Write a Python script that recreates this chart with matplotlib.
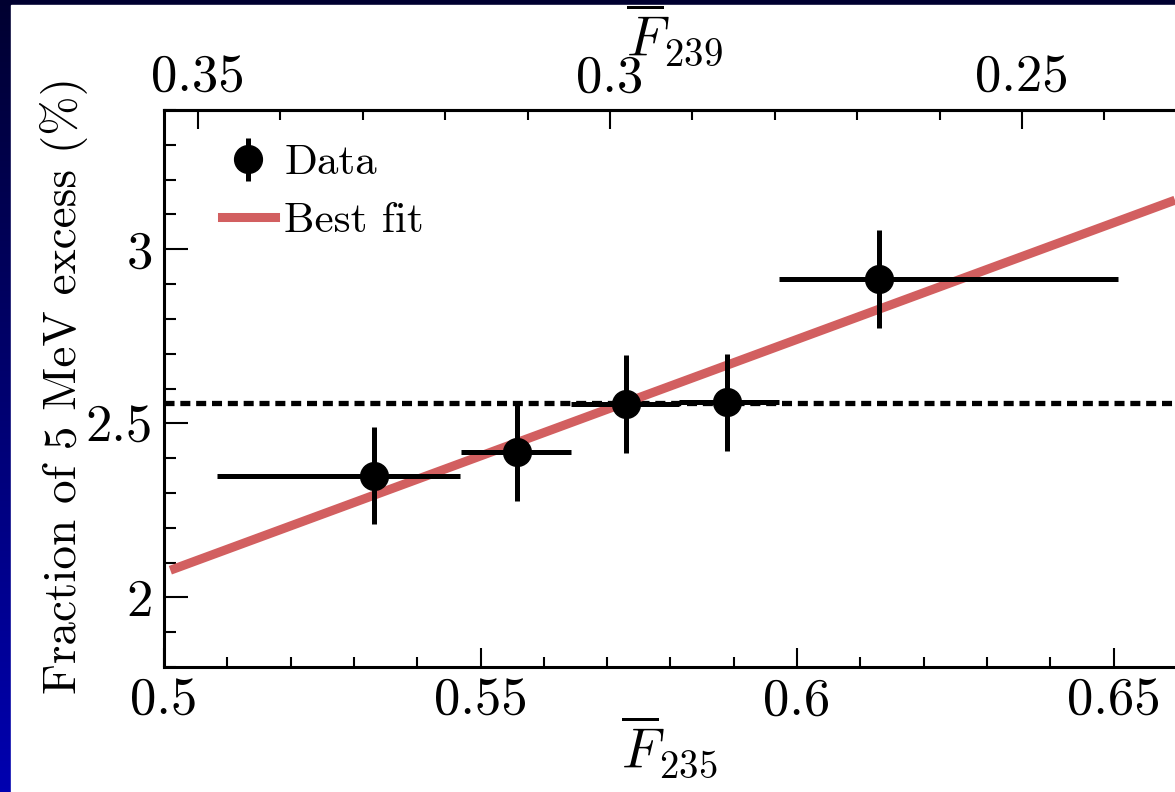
import numpy as np
import matplotlib
matplotlib.use("Agg")
import matplotlib.pyplot as plt
from matplotlib.ticker import MultipleLocator
from matplotlib.lines import Line2D
from matplotlib.patches import Rectangle

plt.rcParams["font.family"] = ["cmr10", "DejaVu Serif"]
plt.rcParams["mathtext.fontset"] = "cm"
plt.rcParams["axes.formatter.use_mathtext"] = True

# data
f235 = [0.5331, 0.5557, 0.5729, 0.5890, 0.6129]
f235_lo = [0.5083, 0.5469, 0.5643, 0.5813, 0.5972]
f235_hi = [0.5468, 0.5643, 0.5813, 0.5972, 0.6507]
frac = [2.35, 2.417, 2.555, 2.56, 2.914]
frac_err = [0.14, 0.139, 0.14, 0.14, 0.141]
mean_frac = 2.557

# best fit line, two ends
fit_x = [0.501, 0.6597]
fit_y = [2.078, 3.141]

f239_ref, f235_ref, f_slope = 0.35, 0.50537, -0.7682

top_ticks = [0.35, 0.3, 0.25]

fit_color = "#d25f60"

fig = plt.figure(figsize=(11.75, 7.92), dpi=100)

# slide background
bg = fig.add_axes([0, 0, 1, 1])
grad = np.linspace(0, 1, 256).reshape(-1, 1)
cmap = matplotlib.colors.LinearSegmentedColormap.from_list("slide", ["#000030", "#0000b0"])
bg.imshow(grad, aspect="auto", cmap=cmap, extent=[0, 1, 0, 1], origin="upper")
bg.add_patch(Rectangle((11 / 1175, 0), 1, 1 - 5 / 792, color="white", transform=bg.transAxes))
bg.set_xlim(0, 1)
bg.set_ylim(0, 1)
bg.axis("off")

ax = fig.add_axes([164 / 1175, 1 - 667 / 792, 1 - 164 / 1175, (667 - 110) / 792])
ax.set_facecolor("white")

ax.axhline(mean_frac, color="k", lw=3.8, ls=(0, (1.9, 1.1)), zorder=1)
ax.plot(fit_x, fit_y, color=fit_color, lw=6.5, solid_capstyle="butt", zorder=2)

xerr = [np.array(f235) - np.array(f235_lo), np.array(f235_hi) - np.array(f235)]
ax.errorbar(f235, frac, xerr=xerr, yerr=frac_err, fmt="o", color="k", ms=20,
            elinewidth=3.6, capsize=0, zorder=3)
# legend entry: marker with vertical bar only
ax.errorbar([np.nan], [np.nan], yerr=[0.1], fmt="o", color="k", ms=20,
            elinewidth=3.6, capsize=0, label="Data")

ax.set_xlim(0.5, 0.6597)
ax.set_ylim(1.8, 3.4)

ax.xaxis.set_major_locator(MultipleLocator(0.05))
ax.xaxis.set_minor_locator(MultipleLocator(0.01))
ax.yaxis.set_major_locator(MultipleLocator(0.5))
ax.yaxis.set_minor_locator(MultipleLocator(0.1))
ax.xaxis.set_major_formatter(plt.FuncFormatter(lambda v, p: f"{v:g}"))
ax.yaxis.set_major_formatter(plt.FuncFormatter(lambda v, p: f"{v:g}"))

for s in ["left", "bottom", "top"]:
    ax.spines[s].set_linewidth(2.2)
ax.spines["right"].set_visible(False)

ax.tick_params(axis="x", which="major", direction="in", length=14, width=1.5,
               labelsize=38, pad=8, top=False)
ax.tick_params(axis="x", which="minor", direction="in", length=7, width=1.5, top=False)
ax.tick_params(axis="y", which="major", direction="in", length=17, width=1.5,
               labelsize=38, pad=8, right=False)
ax.tick_params(axis="y", which="minor", direction="in", length=8.5, width=1.5, right=False)

fwd = lambda x: f239_ref + f_slope * (np.asarray(x) - f235_ref)
inv = lambda y: f235_ref + (np.asarray(y) - f239_ref) / f_slope
sec = ax.secondary_xaxis("top", functions=(fwd, inv))
sec.set_xticks(top_ticks)
sec.xaxis.set_major_formatter(plt.FuncFormatter(lambda v, p: f"{v:g}"))
sec.xaxis.set_minor_locator(MultipleLocator(0.01))
sec.tick_params(which="major", direction="in", length=14, width=1.5, labelsize=38, pad=6)
sec.tick_params(which="minor", direction="in", length=7, width=1.5)
sec.spines["top"].set_linewidth(2.2)

ax.set_xlabel(r"$\overline{F}_{235}$", fontsize=40, labelpad=0)
ax.xaxis.set_label_coords(0.50, -0.083, transform=ax.transAxes)
ax.xaxis.label.set_va("top")
sec.set_xlabel(r"$\overline{F}_{239}$", fontsize=40)
sec.xaxis.set_label_coords(0.505, 1.076, transform=ax.transAxes)
sec.xaxis.label.set_va("bottom")
ax.set_ylabel("Fraction of 5 MeV excess (%)", fontsize=34)
ax.yaxis.set_label_coords(-0.075, 0.506)

handles, labels = ax.get_legend_handles_labels()
handles.append(Line2D([], [], color=fit_color, lw=6.5))
labels.append("Best fit")
ax.legend(handles, labels, loc="upper left", bbox_to_anchor=(0.057, 0.939),
          frameon=False, fontsize=31, handlelength=1.23, handletextpad=0.23,
          labelspacing=0.47, borderaxespad=0, borderpad=0)

fig.savefig("out.png", dpi=100)
